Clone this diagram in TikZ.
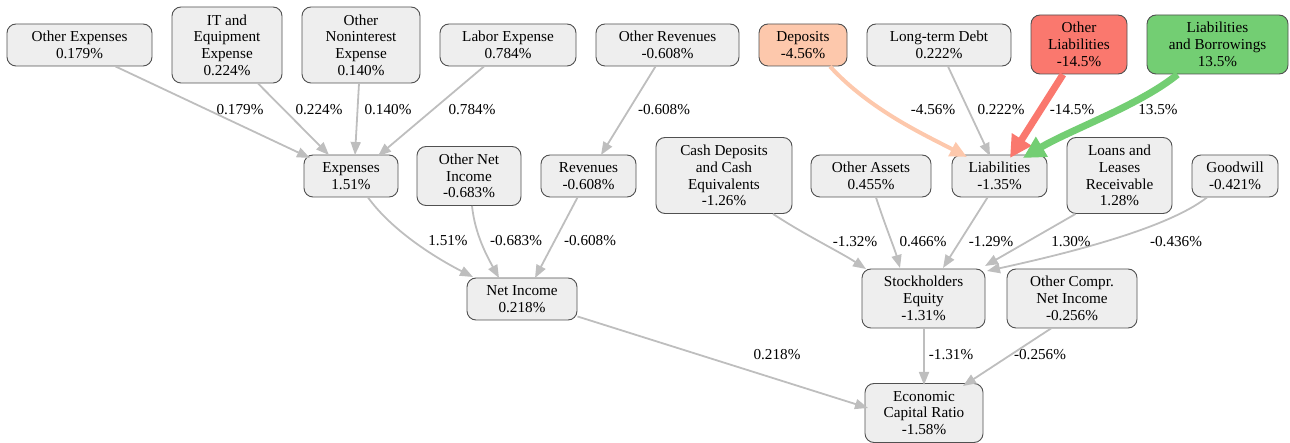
\documentclass[tikz,border=0pt]{standalone}
\usepackage{fontspec}
\setmainfont{Liberation Serif}
\usetikzlibrary{arrows.meta}
\definecolor{boxfill}{RGB}{238,238,238}
\definecolor{boxline}{RGB}{80,80,80}
\definecolor{edgegray}{RGB}{190,190,190}
\definecolor{peach}{RGB}{253,200,172}
\definecolor{redl}{RGB}{250,120,110}
\definecolor{greenl}{RGB}{115,206,115}
\newcommand{\lbl}{\fontsize{15.2}{16.7}\selectfont}

\begin{document}
\begin{tikzpicture}[x=1pt,y=-1pt,
		pbox/.style={draw=boxline,fill=boxfill,rounded corners=9pt,line width=0.9pt,
			align=center,inner sep=0pt,font=\lbl},
		two/.style={minimum height=42pt},
		three/.style={minimum height=59pt},
		four/.style={minimum height=76pt},
		lnk/.style={draw=edgegray,line width=1.8pt,-{Triangle[length=13pt,width=10pt]}},
		pct/.style={font=\lbl,inner sep=0pt}]
		\useasboundingbox (0,0) rectangle (1290,443);
		\begin{scope}
			\node[pbox,two,minimum width=145pt] (oexp) at (79.5,45) {Other Expenses\\0.179\%};
			\node[pbox,four,minimum width=110pt] (itexp) at (227,45) {IT and\\Equipment\\Expense\\0.224\%};
			\node[pbox,four,minimum width=118pt] (onint) at (361,45) {Other\\Noninterest\\Expense\\0.140\%};
			\node[pbox,two,minimum width=136pt] (labor) at (508,45) {Labor Expense\\0.784\%};
			\node[pbox,two,minimum width=143pt] (orev) at (667.5,45) {Other Revenues\\-0.608\%};
			\node[pbox,two,minimum width=88pt,fill=peach] (depo) at (803,45) {Deposits\\-4.56\%};
			\node[pbox,two,minimum width=144pt] (ltdebt) at (939,45) {Long-term Debt\\0.222\%};
			\node[pbox,three,minimum width=96pt,fill=redl] (oliab) at (1079,44.5) {Other\\Liabilities\\-14.5\%};
			\node[pbox,three,minimum width=141pt,fill=greenl] (liabb) at (1217.5,44.5) {Liabilities\\and Borrowings\\13.5\%};

			\node[pbox,two,minimum width=94pt] (exps) at (351,176) {Expenses\\1.51\%};
			\node[pbox,three,minimum width=104pt] (onet) at (469,176) {Other Net\\Income\\-0.683\%};
			\node[pbox,two,minimum width=95pt] (revs) at (588.5,176) {Revenues\\-0.608\%};
			\node[pbox,four,minimum width=136pt] (cash) at (724,175.5) {Cash Deposits\\and Cash\\Equivalents\\-1.26\%};
			\node[pbox,two,minimum width=120pt] (oasset) at (871,176) {Other Assets\\0.455\%};
			\node[pbox,two,minimum width=95pt] (liab) at (999.5,176) {Liabilities\\-1.35\%};
			\node[pbox,four,minimum width=105pt] (loans) at (1119.5,175.5) {Loans and\\Leases\\Receivable\\1.28\%};
			\node[pbox,two,minimum width=86pt] (goodw) at (1235,176) {Goodwill\\-0.421\%};

			\node[pbox,two,minimum width=110pt] (netinc) at (522,299) {Net Income\\0.218\%};
			\node[pbox,three,minimum width=123pt] (seq) at (923.5,298.5) {Stockholders\\Equity\\-1.31\%};
			\node[pbox,three,minimum width=130pt] (ocni) at (1072,298.5) {Other Compr.\\Net Income\\-0.256\%};

			\node[pbox,three,minimum width=118pt] (ecr) at (924,413) {Economic\\Capital Ratio\\-1.58\%};
		\end{scope}
		\begin{scope}
			\draw[lnk] (oexp.south) ++(36,0) -- (310,158) coordinate (e1);
			\draw[lnk] (itexp.south) ++(31,0) -- (329,155);
			\draw[lnk] (onint.south) ++(-2,0) -- (355,155);
			\draw[lnk] (labor.south) ++(-24,0) -- (378,156);
			\draw[lnk] (orev.south) ++(-12,0) -- (601,155);
			\draw[lnk,draw=peach,line width=4pt,-{Triangle[length=17pt,width=15pt]}]
				(depo.south) ++(27,0) .. controls (870,110) and (925,135) .. (967,157);
			\draw[lnk] (ltdebt.south) ++(9,0) -- (990,156);
			\draw[lnk,draw=redl,line width=7pt,-{Triangle[length=22pt,width=22pt]}]
				(oliab.south) ++(-16,0) -- (1010,158);
			\draw[lnk,draw=greenl,line width=7pt,-{Triangle[length=22pt,width=22pt]}]
				(liabb.south) ++(-40,0) .. controls (1140,105) and (1070,130) .. (1023,158);

			\draw[lnk] (exps.south) ++(17,0) .. controls (390,228) and (430,255) .. (473,277);
			\draw[lnk] (onet.south) ++(3,0) .. controls (475,235) and (488,258) .. (499,278);
			\draw[lnk] (revs.south) ++(-11,0) -- (535,278);
			\draw[lnk] (cash.south) ++(49,0) .. controls (805,235) and (840,252) .. (866,269);
			\draw[lnk] (oasset.south) ++(5,0) .. controls (885,225) and (895,250) .. (900,268);
			\draw[lnk] (liab.south) ++(-12,0) -- (943,268);
			\draw[lnk] (loans.south) ++(-44,0) -- (985,266);
			\draw[lnk] (goodw.south) ++(-28,0) .. controls (1165,230) and (1060,255) .. (987,271);

			\draw[lnk] (netinc.south east) ++(0,-4) -- (868,408);
			\draw[lnk] (seq.south) ++(0.5,0) -- (924,385);
			\draw[lnk] (ocni.south) ++(-21,0) -- (963,386);
		\end{scope}
		\node[pct] (l1) at (240,110) {0.179\%};
		\node[pct] (l2) at (319,110) {0.224\%};
		\node[pct] (l3) at (388,110) {0.140\%};
		\node[pct] (l4) at (472,110) {0.784\%};
		\node[pct] (l5) at (664,110) {-0.608\%};
		\node[pct] (l6) at (933,110) {-4.56\%};
		\node[pct] (l7) at (1001,110) {0.222\%};
		\node[pct] (l8) at (1072,110) {-14.5\%};
		\node[pct] (l9) at (1158,110) {13.5\%};
		\node[pct] (l10) at (448,241) {1.51\%};
		\node[pct] (l11) at (516,241) {-0.683\%};
		\node[pct] (l12) at (590,241) {-0.608\%};
		\node[pct] (l13) at (855,242) {-1.32\%};
		\node[pct] (l14) at (923,242) {0.466\%};
		\node[pct] (l15) at (991,242) {-1.29\%};
		\node[pct] (l16) at (1071,242) {1.30\%};
		\node[pct] (l17) at (1176,242) {-0.436\%};
		\node[pct] (l18) at (777,355) {0.218\%};
		\node[pct] (l19) at (951,355) {-1.31\%};
		\node[pct] (l20) at (1040,355) {-0.256\%};
	\end{tikzpicture}
\end{document}
